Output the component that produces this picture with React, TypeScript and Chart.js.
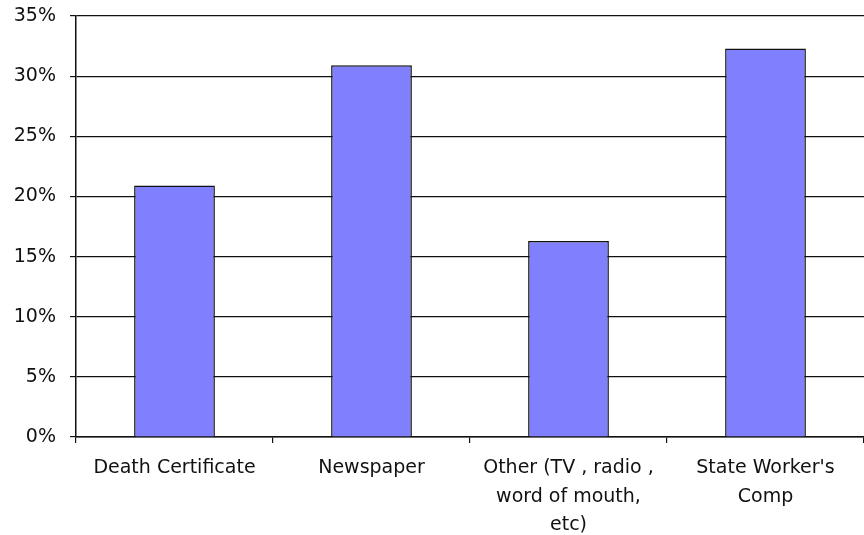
import React, { useEffect, useRef } from "react";
import { Chart, registerables } from "chart.js";

Chart.register(...registerables);

const categories: string[][] = [
  ["Death Certificate"],
  ["Newspaper"],
  ["Other (TV , radio ,", "word of mouth,", "etc)"],
  ["State Worker's", "Comp"],
];
const shares: number[] = [20.9, 30.9, 16.3, 32.3];
const yMin = 0;
const yMax = 35;
const yStep = 5;

export default function App() {
  const ref = useRef<HTMLCanvasElement | null>(null);
  useEffect(() => {
    const canvas = ref.current;
    if (!canvas) return;
    const family = "'DejaVu Sans', sans-serif";
    const chart = new Chart(canvas, {
      type: "bar",
      data: {
        labels: categories,
        datasets: [
          {
            data: shares,
            backgroundColor: "#8080FF",
            borderColor: "#111",
            borderWidth: 1.5,
            barPercentage: 0.41,
            categoryPercentage: 1,
          },
        ],
      },
      options: {
        responsive: false,
        animation: false,
        devicePixelRatio: 1,
        layout: { padding: { top: 16, right: 0, left: 0, bottom: 0 } },
        plugins: {
          legend: { display: false },
          tooltip: { enabled: false },
        },
        scales: {
          x: {
            grid: {
              display: true,
              drawOnChartArea: false,
              drawTicks: true,
              tickLength: 6,
              color: "#111",
              lineWidth: 1.2,
            },
            border: { display: true, color: "#111", width: 1.5 },
            ticks: {
              color: "#111",
              font: { family, size: 19, lineHeight: 1.5 },
              maxRotation: 0,
              minRotation: 0,
              autoSkip: false,
              padding: 11,
            },
            afterFit: (scale: any) => {
              scale.height = 98;
              scale.paddingLeft = 0;
              scale.paddingRight = 0;
            },
          },
          y: {
            min: yMin,
            max: yMax,
            grid: {
              color: "#111",
              lineWidth: 1.2,
              drawTicks: true,
              tickLength: 6,
            },
            border: { display: true, color: "#111", width: 1.5 },
            ticks: {
              stepSize: yStep,
              color: "#111",
              font: { family, size: 19 },
              padding: 14,
              callback: (v: any) => `${v}%`,
            },
            afterFit: (scale: any) => {
              scale.width = 76;
              scale.paddingTop = 0;
              scale.paddingBottom = 0;
            },
          },
        },
      },
    });
    return () => chart.destroy();
  }, []);
  return (
    <div style={{ position: "fixed", left: 0, top: 0, width: 864, height: 535, background: "#fff" }}>
      <canvas ref={ref} width={864} height={535} style={{ width: 864, height: 535 }} />
    </div>
  );
}
